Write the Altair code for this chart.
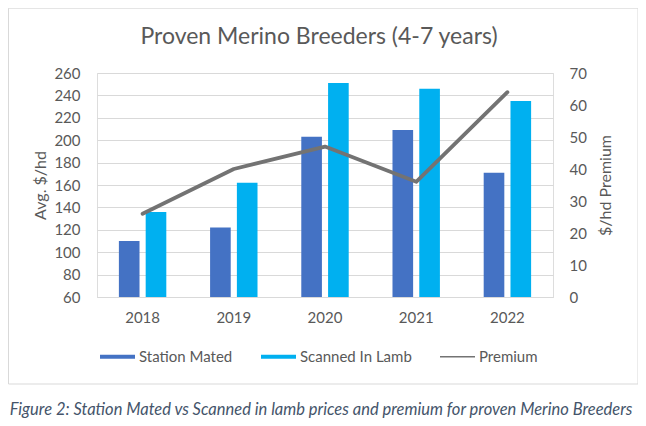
import altair as alt
import pandas as pd

years = ["2018", "2019", "2020", "2021", "2022"]
station_mated = [110, 122, 203, 209, 171]
scanned_in_lamb = [136, 162, 251, 246, 235]
premium = [26, 40, 47, 36, 64]
series_names = ["Station Mated", "Scanned In Lamb", "Premium"]
series_colors = ["#4472C4", "#00B0F0", "#737373"]
left_ticks = [60, 80, 100, 120, 140, 160, 180, 200, 220, 240, 260]
right_ticks = [0, 10, 20, 30, 40, 50, 60, 70]
title_text = "Proven Merino Breeders (4-7 years)"
caption_text = "Figure 2: Station Mated vs Scanned in lamb prices and premium for proven Merino Breeders"

FONT = "Lato"
TXT = "#595959"
W, H = 456, 224

bars_df = pd.DataFrame(
    {
        "year": years * 2,
        "series": ["Station Mated"] * 5 + ["Scanned In Lamb"] * 5,
        "value": station_mated + scanned_in_lamb,
    }
)
line_df = pd.DataFrame({"year": years, "premium": premium, "series": ["Premium"] * 5})
one = pd.DataFrame({"k": [0]})

x_enc = alt.X(
    "year:N",
    sort=years,
    scale=alt.Scale(paddingInner=0.48, paddingOuter=0.24),
    axis=alt.Axis(
        title=None,
        labelAngle=0,
        ticks=False,
        domainColor="#D9D9D9",
        labelFont=FONT,
        labelFontSize=15,
        labelColor=TXT,
        labelPadding=13,
    ),
)

color_scale = alt.Scale(domain=series_names, range=series_colors)

legend = alt.Legend(
    title=None,
    orient="none",
    direction="horizontal",
    legendX=3,
    legendY=266,
    symbolSize=1225,
    symbolType={
        "expr": "datum.value === 'Premium' ? 'M-1,-0.045H1V0.045H-1Z' : 'M-1,-0.12H1V0.12H-1Z'"
    },
    symbolStrokeWidth=0,
    symbolOpacity=1,
    labelFont=FONT,
    labelFontSize=15,
    labelColor=TXT,
    labelOffset=4,
    columnPadding=28,
)

bars = (
    alt.Chart(bars_df)
    .mark_bar()
    .encode(
        x=x_enc,
        xOffset=alt.XOffset(
            "series:N",
            sort=series_names[:2],
            scale=alt.Scale(paddingInner=0.23, paddingOuter=0),
        ),
        y=alt.Y(
            "value:Q",
            scale=alt.Scale(domain=[60, 260], nice=False, zero=False),
            axis=alt.Axis(
                values=left_ticks,
                title="Avg. $/hd",
                titleFont=FONT,
                titleFontSize=16,
                titleFontWeight="normal",
                titleColor=TXT,
                titleAngle=270,
                titleBaseline="middle",
                titleAlign="center",
                titleX=-57,
                titleY=H / 2,
                ticks=False,
                domain=False,
                gridColor="#D9D9D9",
                labelFont=FONT,
                labelFontSize=15,
                labelColor=TXT,
                labelPadding=17,
            ),
        ),
        y2=alt.datum(60),
        color=alt.Color("series:N", scale=color_scale, legend=legend),
    )
)

line = (
    alt.Chart(line_df)
    .mark_line(strokeWidth=3.8, strokeCap="round", strokeJoin="round")
    .encode(
        x=alt.X("year:N", sort=years),
        y=alt.Y(
            "premium:Q",
            scale=alt.Scale(domain=[0, 70], nice=False),
            axis=alt.Axis(
                orient="right",
                values=right_ticks,
                title="$/hd Premium",
                titleFont=FONT,
                titleFontSize=16,
                titleFontWeight="normal",
                titleColor=TXT,
                titleAngle=270,
                titleBaseline="middle",
                titleAlign="center",
                titleX=52,
                titleY=H / 2,
                ticks=False,
                domain=False,
                grid=False,
                labelFont=FONT,
                labelFontSize=15,
                labelColor=TXT,
                labelPadding=16,
            ),
        ),
        color=alt.Color("series:N", scale=color_scale, legend=legend),
    )
)

frame = (
    alt.Chart(one)
    .mark_rect(fill="transparent", stroke="#D9D9D9", strokeWidth=1)
    .encode(
        x=alt.value(-88.5),
        x2=alt.value(541),
        y=alt.value(-64.8),
        y2=alt.value(311),
    )
)

title = (
    alt.Chart(one)
    .mark_text(font=FONT, fontSize=23, color=TXT, baseline="middle", align="center")
    .encode(x=alt.value(222), y=alt.value(-36), text=alt.value(title_text))
)

caption = (
    alt.Chart(one)
    .mark_text(
        font=FONT,
        fontSize=16.5,
        fontStyle="italic",
        color="#44546A",
        baseline="middle",
        align="center",
    )
    .encode(x=alt.value(224), y=alt.value(337), text=alt.value(caption_text))
)

chart = (
    alt.layer(frame, bars, line, title, caption)
    .resolve_scale(y="independent")
    .properties(
        width=W,
        height=H,
        autosize=alt.AutoSizeParams(type="none"),
        padding={"left": 89, "top": 65, "right": 85, "bottom": 127},
    )
    .configure_view(stroke=None)
    .configure(background="white")
)

chart.save("out.html", embed_options={"renderer": "svg", "actions": False})
